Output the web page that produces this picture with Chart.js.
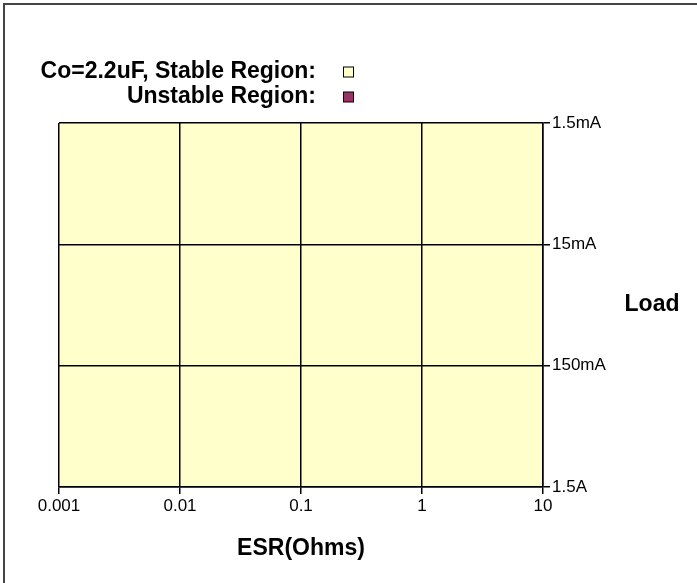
<!DOCTYPE html>
<html>
<head>
<meta charset="utf-8">
<script src="https://cdn.jsdelivr.net/npm/chart.js@4"></script>
<style>
html,body{margin:0;padding:0;background:#fff;}
#wrap{position:relative;width:697px;height:583px;}
</style>
</head>
<body>
<div id="wrap"><canvas id="c" width="697" height="583"></canvas></div>
<script>
// ---- data ----
const xTicks = [0.001, 0.01, 0.1, 1, 10];
const xTickLabels = ['0.001', '0.01', '0.1', '1', '10'];
const yTicks = [0.0015, 0.015, 0.15, 1.5];
const yTickLabels = ['1.5mA', '15mA', '150mA', '1.5A'];
const stableX = [0.001, 10];
const stableY = [0.0015, 0.0015];
const stableFillTo = 1.5;
const seriesLabels = ['Co=2.2uF, Stable Region:', 'Unstable Region:'];
const seriesColors = ['#FFFFCC', '#993366'];
const xTitle = 'ESR(Ohms)';
const yTitle = 'Load';

const FONT = "'Liberation Sans', Arial, sans-serif";

const customPlugin = {
  id: 'custom',
  afterDraw(chart) {
    const ctx = chart.ctx;
    ctx.save();
    // frame (top & left)
    ctx.strokeStyle = '#444';
    ctx.lineWidth = 2;
    ctx.beginPath();
    ctx.moveTo(4, 583); ctx.lineTo(4, 4); ctx.lineTo(697, 4);
    ctx.stroke();
    // legend
    ctx.font = 'bold 23px ' + FONT;
    ctx.textAlign = 'right';
    ctx.textBaseline = 'middle';
    ctx.fillStyle = '#000';
    chart.data.datasets.forEach((ds, i) => {
      const y = 72 + i * 25;
      ctx.fillText(ds.label, 316, y);
      ctx.fillStyle = ds.backgroundColor;
      ctx.fillRect(343.5, y - 5, 10, 10);
      ctx.strokeStyle = '#000';
      ctx.lineWidth = 1;
      ctx.strokeRect(343.5, y - 5, 10, 10);
      ctx.fillStyle = '#000';
    });
    // y title (horizontal)
    ctx.textAlign = 'center';
    ctx.fillText(yTitle, 652, 305);
    ctx.restore();
  }
};

new Chart(document.getElementById('c'), {
  type: 'scatter',
  data: {
    datasets: [
      {
        label: seriesLabels[0],
        type: 'line',
        data: stableX.map((x, i) => ({x: x, y: stableY[i]})),
        backgroundColor: seriesColors[0],
        borderWidth: 0,
        pointRadius: 0,
        fill: {target: {value: stableFillTo}},
        showLine: true
      },
      {
        label: seriesLabels[1],
        data: [],
        backgroundColor: seriesColors[1]
      }
    ]
  },
  options: {
    responsive: false,
    animation: false,
    devicePixelRatio: 1,
    layout: {padding: {left: 59, top: 123, right: 0, bottom: 0}},
    plugins: {legend: {display: false}, tooltip: {enabled: false}},
    scales: {
      x: {
        type: 'logarithmic',
        min: 0.001, max: 10,
        afterBuildTicks: s => { s.ticks = xTicks.map(v => ({value: v})); },
        afterFit: s => { s.height = 96; },
        grid: {color: '#000', lineWidth: 1.5, tickLength: 7, drawTicks: true, z: 1},
        border: {color: '#000', width: 1.5, z: 1},
        ticks: {
          color: '#000', font: {family: FONT, size: 17}, padding: 2,
          maxRotation: 0, autoSkip: false,
          callback: (v) => { const i = xTicks.indexOf(v); return i >= 0 ? xTickLabels[i] : ''; }
        },
        title: {display: true, text: xTitle, color: '#000', font: {family: FONT, size: 23, weight: 'bold'}, padding: {top: 0, bottom: 21}}
      },
      y: {
        type: 'logarithmic',
        position: 'right',
        reverse: true,
        min: 0.0015, max: 1.5,
        afterBuildTicks: s => { s.ticks = yTicks.map(v => ({value: v})); },
        afterFit: s => { s.width = 154; },
        grid: {color: '#000', lineWidth: 1.5, tickLength: 7, z: 1},
        border: {color: '#000', width: 1.5, z: 1},
        ticks: {
          color: '#000', font: {family: FONT, size: 17}, padding: 2,
          autoSkip: false, crossAlign: 'near',
          callback: (v) => { const i = yTicks.findIndex(t => Math.abs(t - v) / t < 1e-6); return i >= 0 ? yTickLabels[i] : ''; }
        }
      }
    }
  },
  plugins: [customPlugin]
});
</script>
</body>
</html>
